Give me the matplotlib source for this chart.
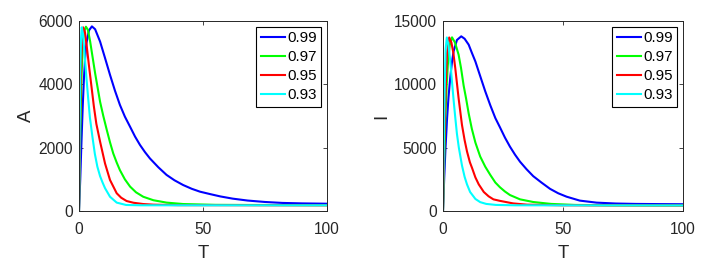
import matplotlib
matplotlib.use("Agg")
import matplotlib.pyplot as plt

plt.rcParams['font.family'] = ['Liberation Sans', 'DejaVu Sans']

labels = ['0.99', '0.97', '0.95', '0.93']
colors = ['#0000ff', '#00ff00', '#ff0000', '#00ffff']

# ---- A panel data ----
tA_099 = [0, 0.5, 1, 1.5, 2, 2.5, 3, 4, 5.2, 6.5, 8.5, 10.5, 12.5, 14.5, 16.5, 18.5, 20.6, 22.6, 24.6,
          26.6, 28.6, 32, 35.3, 38.5, 42, 45.5, 48.8, 52.8, 57, 62, 68, 75, 82, 90, 100]
A_099 = [0, 1000, 2200, 3300, 4200, 4850, 5300, 5700, 5830, 5740, 5350, 4830, 4300, 3800, 3350, 2980, 2660,
         2350, 2085, 1860, 1660, 1380, 1140, 970, 820, 700, 610, 535, 460, 390, 330, 285, 255, 240, 230]
tA_097 = [0, 0.3, 0.7, 1, 1.5, 2, 2.8, 3.6, 4.5, 5.5, 6.5, 7.5, 8.5, 9.8, 11.2, 12.5, 13.8, 15.2, 16.5,
          18.5, 20.6, 23, 25.9, 30, 35.3, 42, 55, 70, 100]
A_097 = [0, 1500, 3200, 4200, 5200, 5650, 5820, 5720, 5350, 4850, 4350, 3900, 3450, 3000, 2560, 2170, 1820,
         1530, 1290, 1000, 770, 590, 450, 340, 265, 220, 195, 190, 185]
tA_095 = [0, 0.3, 0.6, 1, 1.7, 2.4, 3.2, 4, 5, 6, 7, 8.5, 10.5, 12.5, 15.2, 17, 19.2, 22, 25.9, 30, 40, 100]
A_095 = [0, 2000, 3800, 5000, 5800, 5650, 5150, 4600, 3950, 3300, 2750, 2190, 1500, 980, 560, 420, 315, 260,
         220, 200, 185, 180]
tA_093 = [0, 0.2, 0.5, 0.8, 1.1, 1.6, 2.2, 3, 3.7, 4.4, 5.4, 6.4, 7.4, 8.5, 9.5, 10.5, 12.5, 15.2, 19, 25, 100]
A_093 = [0, 2000, 4200, 5400, 5800, 5600, 5000, 4200, 3560, 2950, 2350, 1800, 1400, 1100, 900, 720, 450, 265,
         190, 180, 180]

# ---- I panel data ----
tI_099 = [0, 0.5, 1, 1.7, 2.3, 3.0, 3.7, 4.4, 5.8, 7.6, 9, 10.7, 12, 13.5, 15.5, 17.6, 19.7, 21.8, 23.75,
          25.8, 27.9, 30, 32.1, 34.8, 37.6, 41, 44.6, 48, 51.5, 57, 64, 72, 80, 90, 100]
I_099 = [0, 2600, 4800, 7340, 9000, 10500, 11700, 12600, 13500, 13790, 13600, 13130, 12500, 11800, 10650,
         9450, 8350, 7340, 6600, 5800, 5080, 4450, 3890, 3300, 2750, 2250, 1750, 1400, 1130, 820, 660, 590,
         560, 545, 535]
tI_097 = [0, 0.5, 1, 1.5, 2, 2.8, 3.75, 5, 6.5, 7.5, 8.6, 9.6, 10.7, 12, 13.5, 15.5, 17.6, 19.7, 21.8,
          23.75, 25.8, 27.9, 32.1, 37.6, 45, 55, 70, 100]
I_097 = [0, 4000, 7500, 9800, 11500, 13100, 13710, 13300, 12340, 11300, 9900, 8900, 7700, 6500, 5400, 4300,
         3500, 2850, 2250, 1870, 1540, 1260, 920, 710, 560, 480, 450, 440]
tI_095 = [0, 0.5, 1, 1.7, 2.6, 3.5, 4.3, 5.1, 6.5, 7.9, 9, 10, 11.2, 12.1, 13.5, 14.9, 17, 19, 21, 23.75,
          29.2, 35, 50, 100]
I_095 = [0, 5000, 9000, 12500, 13700, 13300, 12500, 11300, 8900, 6800, 5600, 4700, 3850, 3400, 2650, 2100,
         1500, 1160, 920, 800, 600, 500, 450, 440]
tI_093 = [0, 0.3, 0.7, 1.1, 1.6, 2.2, 3.0, 3.7, 4.4, 5.1, 5.8, 6.6, 7.9, 9, 10, 11.3, 13.5, 15.5, 18, 22, 30, 100]
I_093 = [0, 4500, 9500, 12800, 13700, 13200, 11900, 10300, 8800, 7400, 6100, 5000, 3600, 2700, 2100, 1500,
         950, 700, 560, 480, 450, 440]

A_series = [(tA_099, A_099), (tA_097, A_097), (tA_095, A_095), (tA_093, A_093)]
I_series = [(tI_099, I_099), (tI_097, I_097), (tI_095, I_095), (tI_093, I_093)]

fig = plt.figure(figsize=(7.16, 2.63), dpi=100)
ax1 = fig.add_axes([79 / 716, 52 / 263, 248 / 716, 190 / 263])
ax2 = fig.add_axes([443 / 716, 52 / 263, 240 / 716, 190 / 263])

axcol = '#262626'


def style(ax, series, ylabel, ylim, yticks):
    for (t, v), c, lab in zip(series, colors, labels):
        ax.plot(t, v, color=c, lw=1.5, label=lab, solid_joinstyle='round')
    ax.set_xlim(0, 100)
    ax.set_ylim(*ylim)
    ax.set_xticks([0, 50, 100])
    ax.set_yticks(yticks)
    ax.tick_params(direction='in', length=3, width=0.6, top=True, right=True,
                   labelsize=11.2, colors=axcol)
    ax.tick_params(axis='x', pad=8)
    ax.tick_params(axis='y', pad=4.5)
    for s in ax.spines.values():
        s.set_color(axcol)
        s.set_linewidth(0.7)
    ax.set_xlabel('T', fontsize=13.4, color=axcol, labelpad=5.8)
    ax.set_ylabel(ylabel, fontsize=13.4, color=axcol, labelpad=2.4)
    leg = ax.legend(loc='upper right', fontsize=10.8, fancybox=False, framealpha=1,
                    edgecolor='black', handlelength=1.6, handletextpad=0.15,
                    labelspacing=0.33, borderpad=0.3, borderaxespad=0.4)
    leg.get_frame().set_linewidth(0.8)


style(ax1, A_series, 'A', (0, 6000), [0, 2000, 4000, 6000])
style(ax2, I_series, 'I', (0, 15000), [0, 5000, 10000, 15000])

fig.savefig('out.png', dpi=100)
